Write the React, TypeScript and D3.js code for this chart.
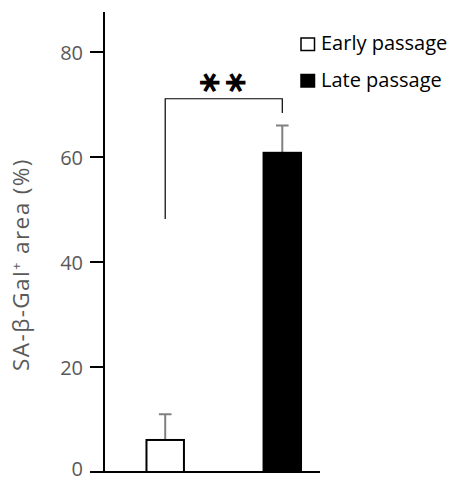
import React from "react";
import * as d3 from "d3";

const categories = ["Early passage", "Late passage"];
const means = [6.1, 60.8];
const errors = [4.9, 5.2];
const fills = ["#ffffff", "#000000"];
const yTicks = [0, 20, 40, 60, 80];
const yLabel = "SA-β-Gal";
const bracketY = 71.1;
const bracketLeftBottom = 48.2;
const bracketRightBottom = 68.4;

const W = 454;
const H = 481;

export default function App() {
  const y = d3.scaleLinear().domain([0, 80]).range([472, 52]);
  const x = d3.scaleBand().domain(categories).range([105.5, 342]).paddingInner(0.68).paddingOuter(0.35);
  const bw = x.bandwidth();
  const axisX = 104;
  const font = "'Open Sans', sans-serif";
  const gray = "#595959";
  const cx = (c: string) => (x(c) as number) + bw / 2;
  const starX = (cx(categories[0]) + cx(categories[1])) / 2;
  const starY = y(bracketY) - 16;
  return (
    <svg width={W} height={H} style={{ position: "absolute", left: 0, top: 0, background: "#fff" }}>
      {/* axes */}
      <line x1={axisX} x2={axisX} y1={12} y2={y(0) + 1} stroke="#000" strokeWidth={2} />
      <line x1={90} x2={320} y1={y(0)} y2={y(0)} stroke="#000" strokeWidth={2} />
      {yTicks.map((t) => (
        <g key={t}>
          <line x1={90} x2={axisX} y1={y(t)} y2={y(t)} stroke="#000" strokeWidth={2} />
          <text x={83} y={Math.min(y(t) + 7.5, 476)} textAnchor="end" fontFamily={font} fontSize={20} fill={gray}>
            {t}
          </text>
        </g>
      ))}
      <text
        transform={`translate(28.5,${(y(0) + y(80)) / 2 + 2.5}) rotate(-90)`}
        textAnchor="middle"
        fontFamily={font}
        fontSize={22.5}
        letterSpacing={1.4}
        fill={gray}
      >
        {yLabel}
        <tspan dy={-8} fontSize={13}>+</tspan>
        <tspan dy={8}> area (%)</tspan>
      </text>
      {/* error bars */}
      {categories.map((c, i) => (
        <g key={"e" + c}>
          <line x1={cx(c)} x2={cx(c)} y1={y(means[i])} y2={y(means[i] + errors[i])} stroke="#808080" strokeWidth={2} />
          <line x1={cx(c) - 6.3} x2={cx(c) + 6.3} y1={y(means[i] + errors[i])} y2={y(means[i] + errors[i])} stroke="#808080" strokeWidth={2} />
        </g>
      ))}
      {/* bars */}
      {categories.map((c, i) => (
        <rect
          key={c}
          x={x(c)}
          y={y(means[i])}
          width={bw}
          height={y(0) - y(means[i])}
          fill={fills[i]}
          stroke="#000"
          strokeWidth={2}
        />
      ))}
      {/* significance bracket */}
      <path
        d={`M${cx(categories[0])},${y(bracketLeftBottom)}V${y(bracketY)}H${cx(categories[1])}V${y(bracketRightBottom)}`}
        fill="none"
        stroke="#000"
        strokeWidth={1.2}
      />
      {[-13, 13].map((dx) => (
        <text
          key={dx}
          transform={`translate(${starX + dx},${starY}) rotate(90)`}
          textAnchor="middle"
          dominantBaseline="central"
          fontFamily="'DejaVu Sans', sans-serif"
          fontWeight="bold"
          fontSize={31}
        >
          ∗
        </text>
      ))}
      {/* legend */}
      {categories.map((c, i) => (
        <g key={"l" + c} transform={`translate(300,${37 + i * 36.5})`}>
          <rect x={1} y={1} width={13.5} height={12.5} fill={fills[i]} stroke="#000" strokeWidth={1.5} />
          <text x={21} y={13} fontFamily={font} fontSize={20} fill="#000">
            {c}
          </text>
        </g>
      ))}
    </svg>
  );
}
